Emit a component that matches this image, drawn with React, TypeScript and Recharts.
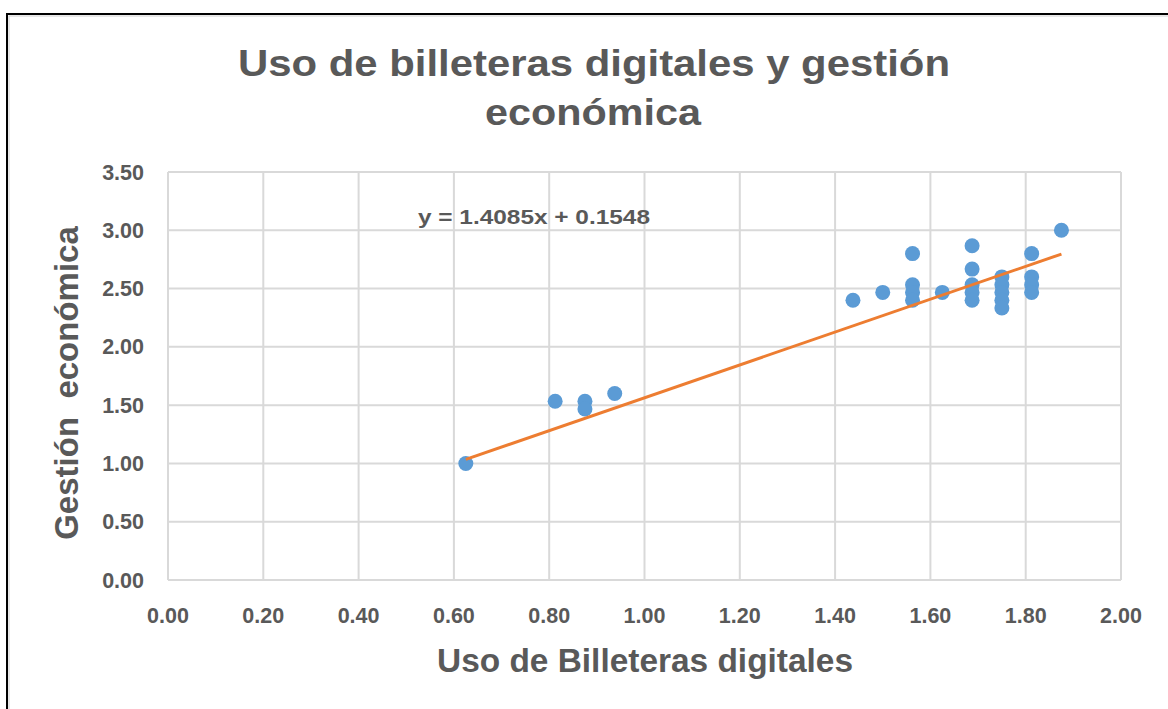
import { CartesianGrid, Scatter, ScatterChart, XAxis, YAxis } from 'recharts';

// Uso de billeteras digitales (x) vs gestión económica (y)
const usoBilleteras = [
  0.625, 0.8125, 0.875, 0.875, 0.9375, 1.4375, 1.5,
  1.5625, 1.5625, 1.5625, 1.5625, 1.625,
  1.6875, 1.6875, 1.6875, 1.6875, 1.6875,
  1.75, 1.75, 1.75, 1.75, 1.75,
  1.8125, 1.8125, 1.8125, 1.8125, 1.875,
];
const gestionEconomica = [
  1.0, 1.533, 1.533, 1.467, 1.6, 2.4, 2.467,
  2.8, 2.533, 2.467, 2.4, 2.467,
  2.867, 2.667, 2.533, 2.467, 2.4,
  2.6, 2.533, 2.467, 2.4, 2.333,
  2.8, 2.6, 2.533, 2.467, 3.0,
];

// linear trend endpoints (y = 1.4085x + 0.1548)
const trendX = [0.625, 1.875];
const trendY = [1.035, 2.796];

const xTicks = [0, 0.2, 0.4, 0.6, 0.8, 1.0, 1.2, 1.4, 1.6, 1.8, 2.0];
const yTicks = [0, 0.5, 1.0, 1.5, 2.0, 2.5, 3.0, 3.5];

const points = usoBilleteras.map((x, i) => ({ x, y: gestionEconomica[i] }));
const trend = trendX.map((x, i) => ({ x, y: trendY[i] }));

const FONT = '"Liberation Sans", Arial, sans-serif';
const GREY = '#595959';

const tickStyle = { fontSize: 21.5, fontWeight: 'bold', fill: GREY, fontFamily: FONT };

const Dot = (p: any) => <circle cx={p.cx} cy={p.cy} r={7.5} fill="#5b9bd5" />;

const App = () => {
  return (
    <div style={{ position: 'absolute', left: 0, top: 0, width: 1168, height: 709, overflow: 'hidden', background: '#fff' }}>
      <ScatterChart width={1168} height={709} margin={{ top: 172, right: 47, bottom: 99, left: 108 }}>
        <CartesianGrid stroke="#d9d9d9" strokeWidth={2} />
        <XAxis
          type="number"
          dataKey="x"
          domain={[0, 2]}
          ticks={xTicks}
          height={30}
          tickSize={0}
          tickMargin={28}
          axisLine={{ stroke: '#d9d9d9', strokeWidth: 2 }}
          tick={tickStyle}
          tickFormatter={(v: number) => v.toFixed(2)}
        />
        <YAxis
          type="number"
          dataKey="y"
          domain={[0, 3.5]}
          ticks={yTicks}
          width={60}
          tickSize={0}
          tickMargin={24}
          axisLine={{ stroke: '#d9d9d9', strokeWidth: 2 }}
          tick={tickStyle}
          tickFormatter={(v: number) => v.toFixed(2)}
        />
        <Scatter data={points} fill="#5b9bd5" shape={Dot} isAnimationActive={false} />
        <Scatter
          data={trend}
          line={{ stroke: '#ed7d31', strokeWidth: 3 }}
          shape={() => <g />}
          isAnimationActive={false}
        />
      </ScatterChart>
      <svg width={1168} height={709} style={{ position: 'absolute', left: 0, top: 0, pointerEvents: 'none' }}>
        <rect x={7} y={14} width={1300} height={900} fill="none" stroke="#000" strokeWidth={2} />
        <rect x={9} y={16} width={1300} height={900} fill="none" stroke="#d0d0d0" strokeWidth={1} />
        <g fontFamily={FONT} fontWeight="bold" fill={GREY}>
          <text x={238} y={76} fontSize={37} textLength={712} lengthAdjust="spacingAndGlyphs">
            Uso de billeteras digitales y gestión
          </text>
          <text x={485} y={125} fontSize={37} textLength={216} lengthAdjust="spacingAndGlyphs">
            económica
          </text>
          <text x={418} y={224} fontSize={20} textLength={232} lengthAdjust="spacingAndGlyphs">
            y = 1.4085x + 0.1548
          </text>
          <text x={437} y={672} fontSize={33} textLength={416} lengthAdjust="spacingAndGlyphs">
            Uso de Billeteras digitales
          </text>
          <text
            x={0}
            y={0}
            fontSize={33}
            textAnchor="middle"
            transform="translate(78 383) rotate(-90)"
            style={{ whiteSpace: 'pre' }}
          >
            {'Gestión  económica'}
          </text>
        </g>
      </svg>
    </div>
  );
};

export default App;
